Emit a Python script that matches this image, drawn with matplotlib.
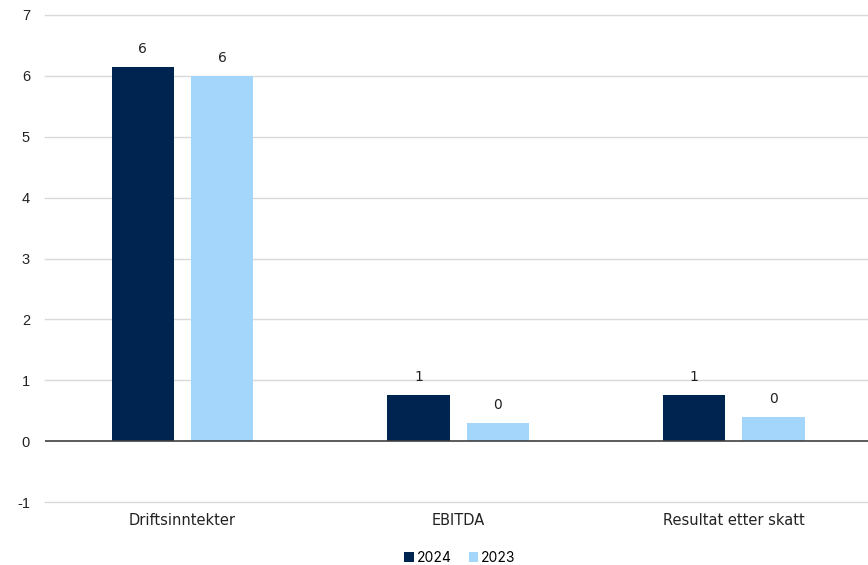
import matplotlib
matplotlib.use("Agg")
import matplotlib.pyplot as plt
import numpy as np

categories = ["Driftsinntekter", "EBITDA", "Resultat etter skatt"]
series_names = ["2024", "2023"]
values_2024 = [6.15, 0.76, 0.76]
values_2023 = [6.0, 0.30, 0.39]
yticks = [-1, 0, 1, 2, 3, 4, 5, 6, 7]

colors = ["#002450", "#A4D6FC"]

fig = plt.figure(figsize=(8.68, 5.65), dpi=100)
ax = fig.add_axes([44.6/868, 1-502/565, 827/868, (502-15)/565])

x = np.arange(len(categories))
w = 0.226
off = 0.144
for vals, o, c, name in [(values_2024, -off, colors[0], series_names[0]),
                         (values_2023, off, colors[1], series_names[1])]:
    bars = ax.bar(x + o, vals, width=w, color=c, label=name, zorder=3)
    for b, v in zip(bars, vals):
        ax.annotate(f"{round(v):d}", (b.get_x() + b.get_width()/2, v),
                    xytext=(0, 8), textcoords="offset points",
                    ha="center", va="bottom", fontsize=10,
                    family="DejaVu Sans", color="#222222")

ax.set_xlim(-0.5, 2.5)
ax.set_ylim(-1.0, 7.0)
ax.set_yticks(yticks)
ax.set_yticklabels([str(t) for t in yticks], family="Liberation Sans", fontsize=10.5, color="#222222")
for t in yticks:
    if t != 0:
        ax.axhline(t, color="#d9d9d9", linewidth=1, zorder=0, clip_on=False)
ax.axhline(0, color="#404040", linewidth=1.2, zorder=4)
ax.set_xticks(x)
ax.set_xticklabels(categories, family="DejaVu Sans", fontsize=10.5, color="#222222")
ax.tick_params(axis="both", length=0)
ax.tick_params(axis="y", pad=10.5)
ax.tick_params(axis="x", pad=8)
for s in ax.spines.values():
    s.set_visible(False)

leg = fig.legend(loc="center", bbox_to_anchor=(460/868, 1-558/565), ncol=2, frameon=False,
                 handlelength=0.7, handleheight=0.7, handletextpad=0.2, columnspacing=1.2,
                 prop={"family": "Inter", "size": 10})

fig.savefig("out.png", dpi=100)
